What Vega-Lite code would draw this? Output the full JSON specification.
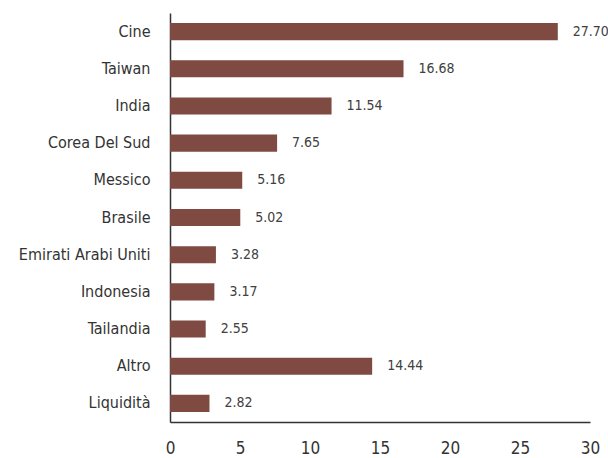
{
  "$schema": "https://vega.github.io/schema/vega-lite/v6.json",
  "autosize": "none",
  "width": 420,
  "height": 409,
  "padding": {"left": 170, "top": 13, "right": 18, "bottom": 36},
  "background": "white",
  "config": {"view": {"stroke": null}, "font": "DejaVu Sans Condensed"},
  "data": {"values": [
    {"paese": "Cine", "valore": 27.70},
    {"paese": "Taiwan", "valore": 16.68},
    {"paese": "India", "valore": 11.54},
    {"paese": "Corea Del Sud", "valore": 7.65},
    {"paese": "Messico", "valore": 5.16},
    {"paese": "Brasile", "valore": 5.02},
    {"paese": "Emirati Arabi Uniti", "valore": 3.28},
    {"paese": "Indonesia", "valore": 3.17},
    {"paese": "Tailandia", "valore": 2.55},
    {"paese": "Altro", "valore": 14.44},
    {"paese": "Liquidità", "valore": 2.82}
  ]},
  "encoding": {
    "y": {"field": "paese", "type": "nominal", "sort": null,
      "scale": {"paddingInner": 0.54, "paddingOuter": 0.27},
      "axis": {"title": null, "ticks": false, "domainColor": "#333333", "domainWidth": 1.5,
        "labelFontSize": 16, "labelColor": "#333333", "labelPadding": 20, "labelFont": "DejaVu Sans Condensed"}},
    "x": {"field": "valore", "type": "quantitative",
      "scale": {"domain": [0, 30], "nice": false},
      "axis": {"title": null, "ticks": false, "grid": false, "values": [0,5,10,15,20,25,30],
        "labelFlush": false, "labelOverlap": false,
        "domainColor": "#333333", "domainWidth": 1.5, "labelFontSize": 17, "labelColor": "#333333",
        "labelPadding": 18, "labelFont": "DejaVu Sans Condensed"}}
  },
  "layer": [
    {"mark": {"type": "bar", "color": "#7E4A41"}},
    {"mark": {"type": "text", "align": "left", "baseline": "middle", "dx": 15, "fontSize": 14, "color": "#404040", "font": "DejaVu Sans Condensed"},
     "encoding": {"text": {"field": "valore", "type": "quantitative", "format": ".2f"}}}
  ]
}
